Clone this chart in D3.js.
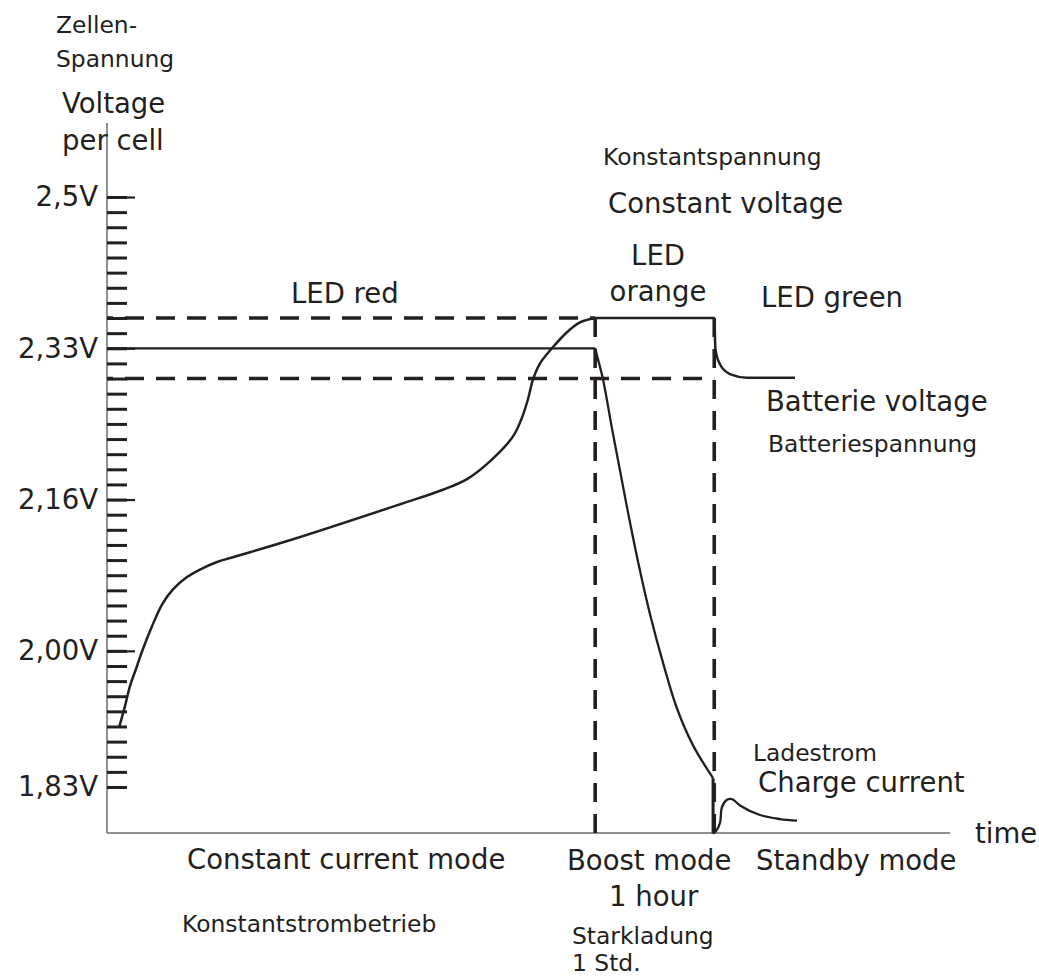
<!DOCTYPE html>
<html><head><meta charset="utf-8">
<script src="https://cdn.jsdelivr.net/npm/d3@7"></script>
<style>
html,body{margin:0;padding:0;background:#fff;}
svg{display:block;}
text{font-family:"DejaVu Sans",sans-serif;fill:#231f20;}
</style></head><body>
<svg id="chart" width="1039" height="977"></svg>
<script>
// ---------------- data ----------------
const tickValues = [2.5, 2.33, 2.16, 2.00, 1.83];
const tickLabels = ["2,5V", "2,33V", "2,16V", "2,00V", "1,83V"];
const tickIndexOfLabels = [0, 10, 20, 30, 39];   // position among the minor ticks
const longTickValues = [2.5, 2.33, 2.16, 2.00];
const minorTickCount = 39;                       // intervals between 2,5V and 1,83V

const timeMax = 7.08;                            // hours along the time axis
const boostStart = 4.10, boostEnd = 5.10;        // boost mode: 1 hour
const constantVoltageLevel = 2.364;              // upper dashed line
const floatLevel = 2.296;                        // lower dashed line

// cell voltage curve
const voltTime  = [0.101, 0.151, 0.193, 0.252, 0.302, 0.378, 0.462, 0.554, 0.672, 0.781, 0.924, 1.058, 1.562, 2.461, 2.822, 3.023, 3.216, 3.410, 3.485, 3.536, 3.578, 3.637, 3.737, 3.863, 3.972, 4.10, 5.10, 5.11, 5.148, 5.232, 5.375, 5.778];
const voltValue = [1.904, 1.931, 1.956, 1.981, 2.002, 2.026, 2.049, 2.065, 2.078, 2.086, 2.094, 2.099, 2.118, 2.155, 2.171, 2.183, 2.203, 2.231, 2.252, 2.273, 2.295, 2.313, 2.330, 2.348, 2.359, 2.364, 2.364, 2.329, 2.312, 2.301, 2.297, 2.297];

// charge current curve (drawn on the same schematic scale)
const curTime  = [0, 4.10, 4.115, 4.166, 4.241, 4.308, 4.392, 4.476, 4.560, 4.670, 4.787, 4.922, 5.090];
const curValue = [2.33, 2.33, 2.322, 2.295, 2.240, 2.193, 2.136, 2.085, 2.039, 1.985, 1.928, 1.882, 1.841];
const standbyTime  = [5.090, 5.115, 5.148, 5.165, 5.207, 5.249, 5.316, 5.484, 5.652, 5.795];
const standbyValue = [1.772, 1.775, 1.785, 1.805, 1.814, 1.815, 1.807, 1.795, 1.790, 1.788];

// ---------------- layout ----------------
const plotLeft = 107, plotRight = 950, plotTop = 123, plotBottom = 833;
const ink = "#231f20", axisGray = "#6a6a6a";

const svg = d3.select("#chart");

const x = d3.scaleLinear().domain([0, timeMax]).range([plotLeft, plotRight]);
const idx = d3.scaleLinear().domain([0, minorTickCount]).range([197, 787]);
const y = d3.scaleLinear().domain(tickValues).range(tickIndexOfLabels.map(idx));

// axes lines
svg.append("line").attr("x1", plotLeft).attr("x2", plotLeft).attr("y1", plotTop).attr("y2", plotBottom)
  .attr("stroke", axisGray).attr("stroke-width", 1.5);
svg.append("line").attr("x1", plotLeft).attr("x2", plotRight).attr("y1", plotBottom).attr("y2", plotBottom)
  .attr("stroke", axisGray).attr("stroke-width", 1.5);

// minor ticks
const gMinor = svg.append("g").attr("transform", `translate(${plotLeft},0)`)
  .call(d3.axisRight(idx).tickValues(d3.range(minorTickCount + 1)).tickSize(20).tickFormat(""));
gMinor.select(".domain").remove();
gMinor.selectAll("line").attr("stroke", ink).attr("stroke-width", 3);

// long ticks
const gLong = svg.append("g").attr("transform", `translate(${plotLeft},0)`)
  .call(d3.axisRight(y).tickValues(longTickValues).tickSize(28).tickFormat(""));
gLong.select(".domain").remove();
gLong.selectAll("line").attr("stroke", ink).attr("stroke-width", 2.2);

// tick labels
const gLab = svg.append("g").attr("transform", `translate(${plotLeft},0)`)
  .call(d3.axisLeft(y).tickValues(tickValues).tickSize(0).tickPadding(9)
    .tickFormat((d, i) => tickLabels[i]));
gLab.select(".domain").remove();
gLab.selectAll("text").attr("font-family", "DejaVu Sans").attr("font-size", 27.5).attr("fill", ink);

// dashed guide lines
const dash = "19,12";
function dashed(x1, y1, x2, y2, off) {
  svg.append("line").attr("x1", x1).attr("y1", y1).attr("x2", x2).attr("y2", y2)
    .attr("stroke", ink).attr("stroke-width", 3.6).attr("stroke-dasharray", dash)
    .attr("stroke-dashoffset", off || 0);
}
dashed(x(0), y(constantVoltageLevel), x(boostStart), y(constantVoltageLevel), 13);
dashed(x(0), y(floatLevel), x(boostEnd), y(floatLevel), 13);
dashed(x(boostStart), y(constantVoltageLevel), x(boostStart), plotBottom, 0);
dashed(x(boostEnd), y(constantVoltageLevel), x(boostEnd), plotBottom, 0);

// curves
const smooth = d3.line().x(d => x(d[0])).y(d => y(d[1])).curve(d3.curveCatmullRom.alpha(0.5));
const mono = d3.line().x(d => x(d[0])).y(d => y(d[1])).curve(d3.curveMonotoneX);
const straight = d3.line().x(d => x(d[0])).y(d => y(d[1]));

const voltData = voltTime.map((t, i) => [t, voltValue[i]]);
const curData = curTime.map((t, i) => [t, curValue[i]]);
const standbyData = standbyTime.map((t, i) => [t, standbyValue[i]]);

function stroke(path, w) {
  return svg.append("path").attr("d", path).attr("fill", "none")
    .attr("stroke", ink).attr("stroke-width", w).attr("stroke-linejoin", "round");
}
// voltage: smooth rise in constant current mode, then constant voltage & drop
stroke(smooth(voltData.filter(d => d[0] <= boostStart)), 2.5);
stroke(mono(voltData.filter(d => d[0] >= boostStart)), 2.5);

// current: constant level, then decay during boost, vertical fall, standby pulse
stroke(straight(curData.filter(d => d[0] <= boostStart)), 2.2);
stroke(smooth(curData.filter(d => d[0] >= boostStart)), 2.3);
const lastCur = curData[curData.length - 1];
stroke(straight([lastCur, standbyData[0]]), 3);
stroke(smooth(standbyData), 2.3);

// annotations
const big = 27.5, small = 23.4;
const labels = [
  ["Zellen-", 56, 33, small, "start"],
  ["Spannung", 56, 67, small, "start"],
  ["Voltage", 62, 113, big, "start"],
  ["per cell", 62, 150, big, "start"],
  ["Konstantspannung", 603, 165, small, "start"],
  ["Constant voltage", 608, 213, big, "start"],
  ["LED", 658, 265, big, "middle"],
  ["orange", 658, 301, big, "middle"],
  ["LED red", 291, 303, big, "start"],
  ["LED green", 761, 307, big, "start"],
  ["Batterie voltage", 766, 411, big, "start"],
  ["Batteriespannung", 768, 452, small, "start"],
  ["Ladestrom", 753, 761, small, "start"],
  ["Charge current", 758, 792, big, "start"],
  ["time", 975, 843, big, "start"],
  ["Constant current mode", 187, 869, big, "start"],
  ["Boost mode", 567, 870, big, "start"],
  ["Standby mode", 756, 870, big, "start"],
  ["1 hour", 609, 906, big, "start"],
  ["Konstantstrombetrieb", 182, 932, small, "start"],
  ["Starkladung", 572, 944, small, "start"],
  ["1 Std.", 572, 971, small, "start"]
];
svg.append("g").selectAll("text").data(labels).join("text")
  .attr("x", d => d[1]).attr("y", d => d[2])
  .attr("font-size", d => d[3]).attr("text-anchor", d => d[4])
  .text(d => d[0]);
</script>
</body></html>
